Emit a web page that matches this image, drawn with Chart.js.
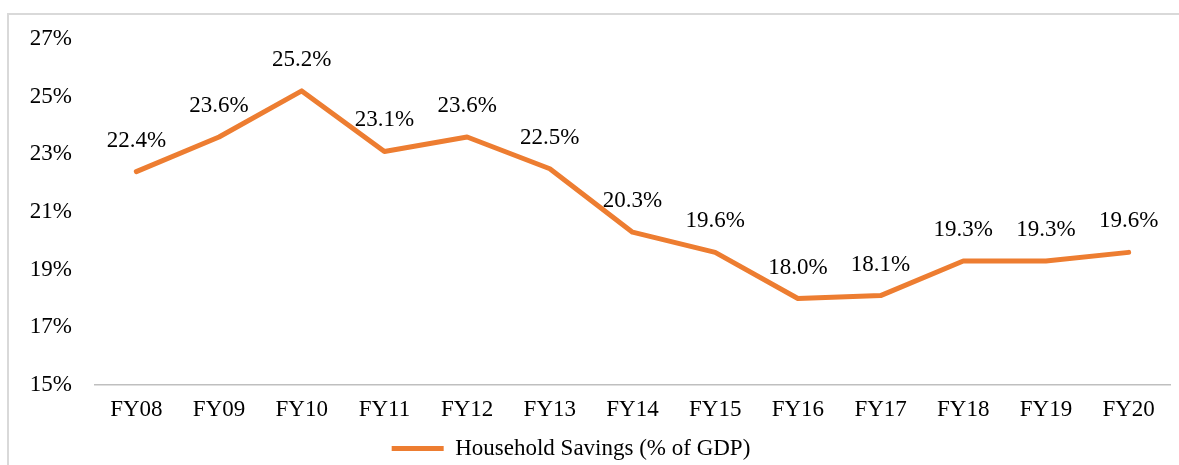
<!DOCTYPE html>
<html>
<head>
<meta charset="utf-8">
<script src="https://cdn.jsdelivr.net/npm/chart.js@4"></script>
<style>
  html, body { margin: 0; padding: 0; background: #fff; }
  #frame { position: absolute; left: 7px; top: 13px; width: 1172px; height: 452px;
           border-top: 2px solid #d9d9d9; border-left: 2px solid #d9d9d9; box-sizing: border-box; }
  #wrap { position: absolute; left: 0; top: 0; width: 1179px; height: 465px; }
</style>
</head>
<body>
<div id="frame"></div>
<div id="wrap"><canvas id="c" width="1179" height="465"></canvas></div>
<script>
//series
const years = ['FY08', 'FY09', 'FY10', 'FY11', 'FY12', 'FY13', 'FY14', 'FY15', 'FY16', 'FY17', 'FY18', 'FY19', 'FY20']
const savings = [22.4, 23.6, 25.2, 23.1, 23.6, 22.5, 20.3, 19.6, 18.0, 18.1, 19.3, 19.3, 19.6]
const seriesName = 'Household Savings (% of GDP)'

const orange = '#ED7D31'
const serif = '"Liberation Serif", "Times New Roman", serif'
const fontSize = 23

//value labels sit above each point
const valueLabels = {
    id: 'valueLabels',
    afterDatasetsDraw(chart) {
        const ctx = chart.ctx
        const meta = chart.getDatasetMeta(0)
        ctx.save()
        ctx.font = fontSize + 'px ' + serif
        ctx.fillStyle = '#000'
        ctx.textAlign = 'center'
        ctx.textBaseline = 'middle'
        meta.data.forEach((pt, i) => {
            ctx.fillText(savings[i].toFixed(1) + '%', pt.x, pt.y - 31)
        })
        ctx.restore()
    }
}

//legend in the source sits a bit left of centre and a bit lower than chart.js puts it
const legendNudge = {
    id: 'legendNudge',
    afterLayout(chart) {
        const lg = chart.legend
        lg.left -= 14; lg.right -= 14
        lg.top += 5; lg.bottom += 5
    }
}

new Chart(document.getElementById('c'), {
    type: 'line',
    data: {
        labels: years,
        datasets: [{
            label: seriesName,
            data: savings,
            borderColor: orange,
            backgroundColor: orange,
            borderWidth: 5,
            borderCapStyle: 'round',
            borderJoinStyle: 'round',
            pointRadius: 0,
            tension: 0
        }]
    },
    options: {
        responsive: false,
        animation: false,
        layout: {padding: {top: 39, right: 9, bottom: 0, left: 0}},
        plugins: {
            tooltip: {enabled: false},
            legend: {
                position: 'bottom',
                labels: {
                    font: {family: serif, size: fontSize},
                    color: '#000',
                    boxWidth: 52,
                    boxHeight: 5,
                    padding: 8,
                    generateLabels: chart => [{
                        text: seriesName,
                        fillStyle: orange,
                        strokeStyle: orange,
                        lineWidth: 0,
                        datasetIndex: 0
                    }]
                }
            }
        },
        scales: {
            x: {
                offset: true,
                grid: {display: false, drawTicks: false},
                border: {display: true, color: '#bfbfbf', width: 1.5},
                ticks: {font: {family: serif, size: fontSize}, color: '#000', padding: 11, maxRotation: 0},
                afterFit: s => { s.height = 39 }
            },
            y: {
                min: 15,
                max: 27,
                grid: {display: false, drawTicks: false},
                border: {display: false},
                ticks: {
                    stepSize: 2,
                    font: {family: serif, size: fontSize},
                    color: '#000',
                    padding: 23,
                    callback: v => v + '%'
                },
                afterFit: s => { s.width = 95 }
            }
        }
    },
    plugins: [valueLabels, legendNudge]
})
</script>
</body>
</html>
